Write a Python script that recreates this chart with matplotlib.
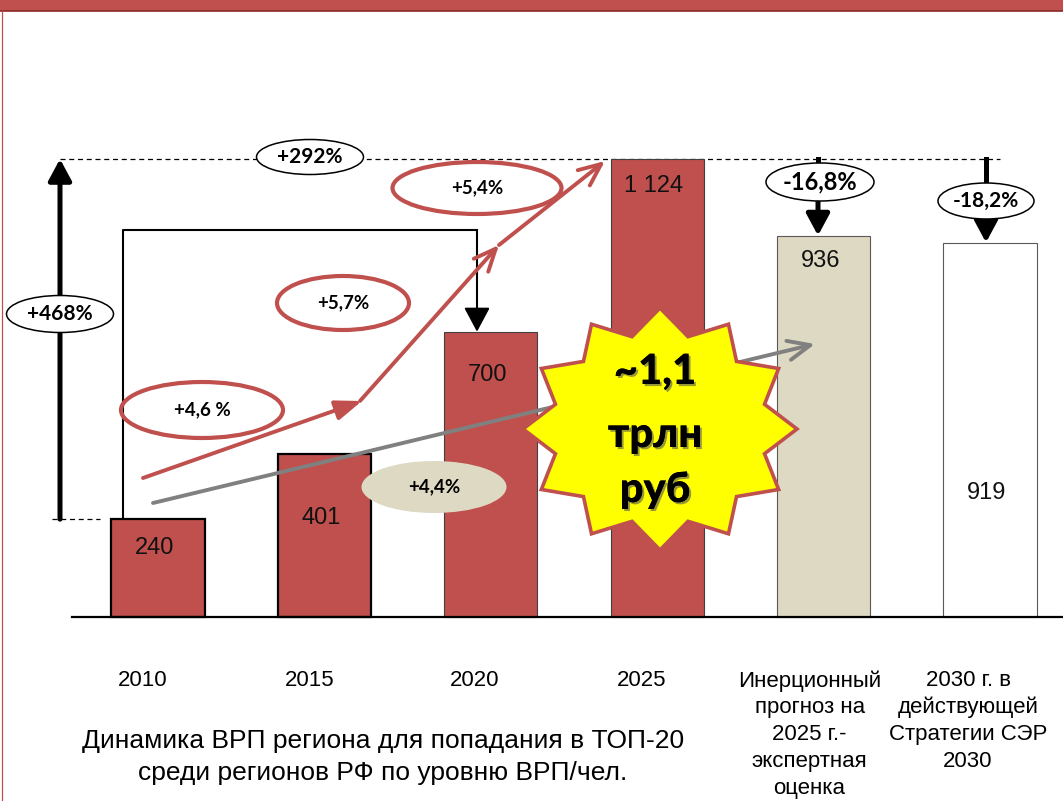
import matplotlib
matplotlib.use('Agg')
import matplotlib.pyplot as plt
from matplotlib.patches import Ellipse, Polygon, Rectangle
from matplotlib.lines import Line2D
import matplotlib.patheffects as pe
import numpy as np

# ---------------- data ----------------
categories = ['2010', '2015', '2020', '2025',
              'Инерционный\nпрогноз на\n2025 г.-\nэкспертная\nоценка',
              '2030 г. в\nдействующей\nСтратегии СЭР\n2030']
values = [240, 401, 700, 1124, 936, 919]
value_labels = ['240', '401', '700', '1 124', '936', '919']
growth_labels = ['+4,6 %', '+5,7%', '+5,4%']
inertial_growth_label = '+4,4%'
total_growth_label = '+468%'
growth_2010_2020_label = '+292%'
gap_labels = ['-16,8%', '-18,2%']
star_lines = ['~1,1', 'трлн', 'руб']
caption = 'Динамика ВРП региона для попадания в ТОП-20\nсреди регионов РФ по уровню ВРП/чел.'

# ---------------- style ----------------
RED = '#C0504D'
BEIGE = '#DDD9C3'
GRAY = '#808080'
bar_colors = [RED, RED, RED, RED, BEIGE, '#FFFFFF']
bar_edges = ['#000000', '#000000', '#404040', '#404040', '#595959', '#595959']
bar_lw = [1.6, 1.6, 0.8, 0.8, 0.8, 0.8]
label_offset_px = [29, 64, 43, 27, 25, 250]   # label distance below bar top (px)
cat_shift_px = [-15, -15, -16, -16, -14, -22]  # category label shift from bar centre (px)
SANS = 'Liberation Sans'
BOLD = 'Lato'

W_PX, H_PX = 1063, 801
X0, DX = 158.0, 166.4     # pixel centre of first bar, spacing
BASE, K = 617.0, 0.4075   # baseline pixel, pixels per unit


def X(px):
    return (px - X0) / DX


def Y(py):
    return (BASE - py) / K


def Wd(wpx):
    return wpx / DX


def Hd(hpx):
    return hpx / K


fig = plt.figure(figsize=(W_PX / 100, H_PX / 100), dpi=100)
ax = fig.add_axes([0, 0, 1, 1])
ax.set_xlim(X(0), X(W_PX))
ax.set_ylim(Y(H_PX), Y(0))
ax.axis('off')

# frame decoration
fig.patches.append(Rectangle((0, 1 - 11 / H_PX), 1, 11 / H_PX, transform=fig.transFigure,
                             facecolor=RED, edgecolor='none', zorder=0))
fig.lines.append(Line2D([0, 1], [1 - 11 / H_PX] * 2, transform=fig.transFigure,
                        color='#8B2A27', lw=1.2))
fig.lines.append(Line2D([1.5 / W_PX] * 2, [0, 1 - 11 / H_PX], transform=fig.transFigure,
                        color=RED, lw=0.9))

idx = np.arange(len(values))

# bars
ax.bar(idx, values, width=0.56, color=bar_colors, edgecolor=bar_edges,
       linewidth=bar_lw, zorder=2)
# baseline
ax.plot([X(72), X(W_PX)], [0, 0], color='black', lw=1.6, zorder=3)

# value labels
for i, (v, lab) in enumerate(zip(values, value_labels)):
    ty = BASE - v * K + label_offset_px[i]
    ax.text(i - 0.02, Y(ty), lab, ha='center', va='center', fontsize=17,
            family=SANS, color='#111111', zorder=5)

# category labels
for i, cat in enumerate(categories):
    ax.text(i + cat_shift_px[i] / DX, Y(670), cat, ha='center', va='top', fontsize=16,
            family=SANS, linespacing=1.36, color='black', zorder=5)

ax.text(X(383), Y(757), caption, ha='center', va='center', fontsize=19,
        family=SANS, linespacing=1.45, color='black', zorder=5)

# dashed reference lines
ax.plot([X(60), X(1000)], [values[3]] * 2, color='black', lw=0.9,
        ls=(0, (4, 3)), zorder=1)
ax.plot([X(52), X(100)], [values[0]] * 2, color='black', lw=0.9,
        ls=(0, (4, 3)), zorder=1)


def arrow(x0, y0, x1, y1, color='black', lw=2.0, style='-|>', hl=0.6, hw=0.35, ms=20, z=3):
    ax.annotate('', xy=(x1, y1), xytext=(x0, y0),
                arrowprops=dict(arrowstyle=f'{style},head_length={hl},head_width={hw}',
                                color=color, lw=lw, shrinkA=0, shrinkB=0,
                                mutation_scale=ms),
                zorder=z)


# big +468% arrow
arrow(X(60), values[0], X(60), values[3], lw=3.6, hl=0.65, hw=0.35, z=3)
# bracket 2010 -> 2020
ax.plot([X(123), X(123), X(477)], [values[0], Y(230), Y(230)], color='black', lw=1.5, zorder=3)
arrow(X(477), Y(230), X(477), values[2], lw=1.5, hl=0.75, hw=0.4, z=3)

# red growth arrows
arrow(X(143), Y(478), X(362), Y(401), color=RED, lw=2.8, style='-|>', hl=0.8, hw=0.3, z=3)
arrow(X(360), Y(401), X(499), Y(245), color=RED, lw=2.8, style='->', hl=0.8, hw=0.35, z=3)
arrow(X(499), Y(245), X(605), Y(161), color=RED, lw=2.8, style='->', hl=0.8, hw=0.35, z=3)
# gray inertial arrow
arrow(X(153), Y(503), X(815), Y(344), color=GRAY, lw=2.8, style='->', hl=0.8, hw=0.35, z=3)

# drop arrows to inertial / strategy bars
ax.plot([X(818)] * 2, [values[3], Y(163)], color='black', lw=3.6, zorder=3)
arrow(X(818), Y(201), X(818), values[4], lw=3.6, hl=0.65, hw=0.35, z=3)
ax.plot([X(986)] * 2, [values[3], Y(183)], color='black', lw=3.6, zorder=3)
arrow(X(986), Y(219), X(986), values[5], lw=3.6, hl=0.65, hw=0.35, z=3)


def ellipse(cx, cy, w, h, text, fc='white', ec='black', lw=1.1, fs=13):
    ax.add_patch(Ellipse((X(cx), Y(cy)), Wd(w), Hd(h), facecolor=fc, edgecolor=ec,
                         lw=lw, zorder=4))
    ax.text(X(cx), Y(cy), text, ha='center', va='center', fontsize=fs,
            family=BOLD, weight='bold', color='black', zorder=5)


ellipse(60, 314, 107, 37, total_growth_label, fs=15)
ellipse(310, 157, 107, 35, growth_2010_2020_label, fs=15)
ellipse(820, 182, 108, 38, gap_labels[0], fs=17)
ellipse(986, 201, 96, 36, gap_labels[1], fs=15)
ellipse(202, 410, 162, 56, growth_labels[0], fc='none', ec=RED, lw=3.0, fs=13.5)
ellipse(343, 303, 132, 54, growth_labels[1], fc='none', ec=RED, lw=3.0, fs=13.5)
ellipse(477, 188, 169, 52, growth_labels[2], fc='none', ec=RED, lw=3.0, fs=13.5)
ellipse(434, 487, 145, 52, inertial_growth_label, fc=BEIGE, ec='none', lw=0, fs=13.5)

# star
n = 12
cx, cy, rx, ry, inner = 660, 429, 137, 121, 0.79
ang = np.pi / 2 + np.arange(2 * n) * np.pi / n
rad = np.where(np.arange(2 * n) % 2 == 0, 1.0, inner)
sx = cx + rx * rad * np.cos(ang)
sy = cy - ry * rad * np.sin(ang)
ax.add_patch(Polygon(np.column_stack([X(sx), Y(sy)]), closed=True, facecolor='#FFFF00',
                     edgecolor=RED, lw=2.6, zorder=6, joinstyle='miter'))
for txt, ty in zip(star_lines, [372, 435, 490]):
    ax.text(X(655), Y(ty), txt, ha='center', va='center', fontsize=30, family=BOLD,
            weight=900, color='black', zorder=7,
            path_effects=[pe.withSimplePatchShadow(offset=(1.5, -1.5), shadow_rgbFace='#555555',
                                                   alpha=0.6), pe.Normal()])

fig.savefig('out.png', dpi=100)
